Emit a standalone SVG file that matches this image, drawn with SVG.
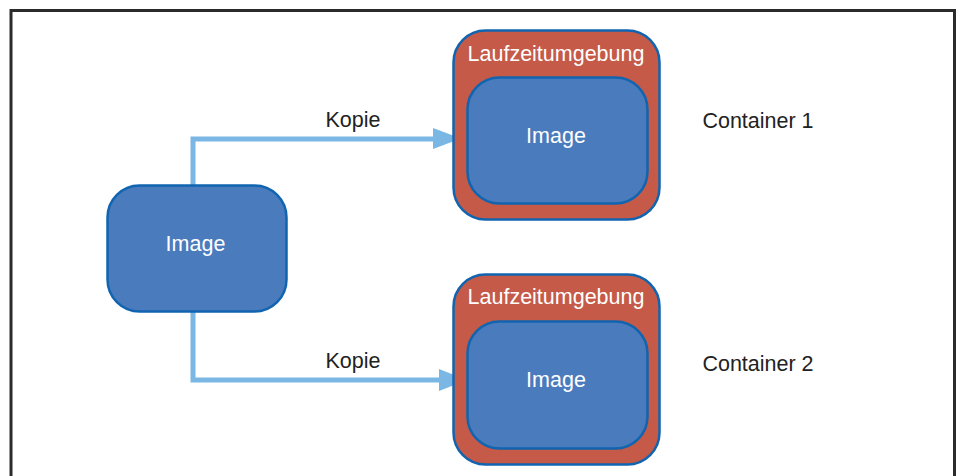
<svg xmlns="http://www.w3.org/2000/svg" width="960" height="476" viewBox="0 0 960 476">
<defs>
<style>
.frame{fill:none;stroke:#2b2b2b;stroke-width:3}
.blue{fill:#4a7bbd;stroke:#1064b0;stroke-width:2.5}
.red{fill:#c45a47;stroke:#1064b0;stroke-width:2.5}
.conn{fill:none;stroke:#7bb7e4;stroke-width:5}
.head{fill:#7bb7e4}
text{font-family:"Liberation Sans",Arial,sans-serif;font-size:21.5px;text-anchor:middle}
.w{fill:#ffffff}
.k{fill:#222222}
</style>
</defs>
<rect width="960" height="476" fill="#ffffff"/>
<path class="frame" d="M11,480 V10.5 H954.5 V480"/>
<g id="connectors">
<polyline class="conn" points="193,185 193,139 435,139"/>
<polygon class="head" points="433,128 461,138.5 433,149"/>
<polyline class="conn" points="193,312 193,380 441,380"/>
<polygon class="head" points="439,369 467,380 439,391"/>
<text class="k" x="353" y="127">Kopie</text>
<text class="k" x="353" y="368">Kopie</text>
</g>
<g id="image-source">
<rect class="blue" x="107.5" y="185.5" width="179" height="126" rx="32"/>
<text class="w" x="195.5" y="251">Image</text>
</g>
<g id="container1">
<rect class="red" x="453.5" y="30.5" width="206" height="189" rx="32"/>
<text class="w" x="556" y="61">Laufzeitumgebung</text>
<rect class="blue" x="467.5" y="77.5" width="180" height="126" rx="32"/>
<text class="w" x="556" y="143">Image</text>
</g>
<g id="container2">
<rect class="red" x="453.5" y="274.5" width="206" height="190" rx="32"/>
<text class="w" x="556" y="304">Laufzeitumgebung</text>
<rect class="blue" x="467.5" y="321.5" width="180" height="127" rx="32"/>
<text class="w" x="556" y="387">Image</text>
</g>
<g id="labels">
<text class="k" x="758" y="128">Container 1</text>
<text class="k" x="758" y="371">Container 2</text>
</g>
</svg>
